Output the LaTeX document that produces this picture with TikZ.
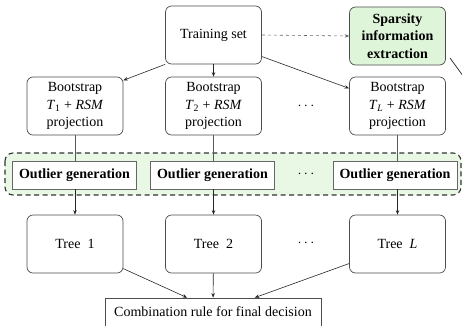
\documentclass[tikz,border=0pt]{standalone}
\usepackage{fontspec}
\setmainfont{Liberation Serif}
\usetikzlibrary{arrows.meta}
\definecolor{spgreen}{HTML}{DFF5D9}
\definecolor{regreen}{HTML}{E9F8E5}
\begin{document}
\begin{tikzpicture}[x=1pt,y=-1pt,
  txt/.style={font=\fontsize{14}{17.5}\selectfont},
  box/.style={txt, draw=black!70, line width=0.7pt, rounded corners=6pt, fill=white, minimum width=96pt, minimum height=58pt, inner sep=0pt, align=center},
  obox/.style={draw=black!60, line width=0.7pt, fill=white, minimum width=124pt, minimum height=28pt, inner sep=0pt, font=\bfseries\fontsize{14}{17.5}\selectfont},
  arr/.style={-{Stealth[length=4.5pt,width=3.5pt]}, draw=black!85, line width=0.6pt},
  ln/.style={draw=black!65, line width=0.6pt},
  dots/.style={txt}]
\useasboundingbox (0,0) rectangle (462,325);
% dashed region
\draw[dash pattern=on 5pt off 3.5pt, line width=1.1pt, draw=black!80, rounded corners=8pt, fill=regreen] (5,153) rectangle (461,195);
% top row
\node[box] (train) at (213.5,35) {Training set};
\node[box, fill=spgreen, font=\bfseries\fontsize{14}{17.5}\selectfont] (sp) at (397.5,36) {Sparsity\\information\\extraction};
% bootstrap row
\node[box] (b1) at (75,106) {Bootstrap\\\textit{T}\textsubscript{1} + \textit{RSM}\\projection};
\node[box] (b2) at (213.5,106) {Bootstrap\\\textit{T}\textsubscript{2} + \textit{RSM}\\projection};
\node[box] (bL) at (397.5,106) {Bootstrap\\\textit{T}\textsubscript{\textit{L}} + \textit{RSM}\\projection};
\node[dots] (d1) at (306,106) {$\cdots$};
% outlier row
\node[obox] (o1) at (74.5,175) {Outlier generation};
\node[obox] (o2) at (212.5,175) {Outlier generation};
\node[obox] (oL) at (395,175) {Outlier generation};
\node[dots] (d2) at (306,174) {$\cdots$};
% trees
\node[box] (t1) at (75,244) {Tree\ \ 1};
\node[box] (t2) at (213.5,244) {Tree\ \ 2};
\node[box] (tL) at (397.5,244) {Tree\ \ \textit{L}};
\node[dots] (d3) at (306,243) {$\cdots$};
% combination
\node[txt, draw=black!70, line width=0.7pt, fill=white, minimum width=216pt, minimum height=28pt, inner sep=0pt] (comb) at (213,312) {Combination rule for final decision};
% connectors
\draw[arr, dashed, draw=black!60] (train.east) -- (sp.west);
\draw[arr] (train.south west) -- (b1.28);
\draw[arr] (train) -- (b2);
\draw[arr] (train.-24) -- (bL.160);
\draw[ln] (b1) -- (o1.north -| b1);
\draw[ln] (b2) -- (o2.north -| b2);
\draw[ln] (bL) -- (oL.north -| bL);
\draw[arr] (o1.south -| t1) -- (t1);
\draw[arr] (o2.south -| t2) -- (t2);
\draw[arr] (oL.south -| tL) -- (tL);
\draw[arr] (t1.-27) -- (comb.151);
\draw[arr] (t2) -- (comb);
\draw[arr] (tL.202) -- (comb.19);
\coordinate (spa) at (450,58);
\coordinate (spb) at (466,80);
\draw[draw=black!85, line width=0.7pt] (spa) -- (spb);
\end{tikzpicture}
\end{document}
